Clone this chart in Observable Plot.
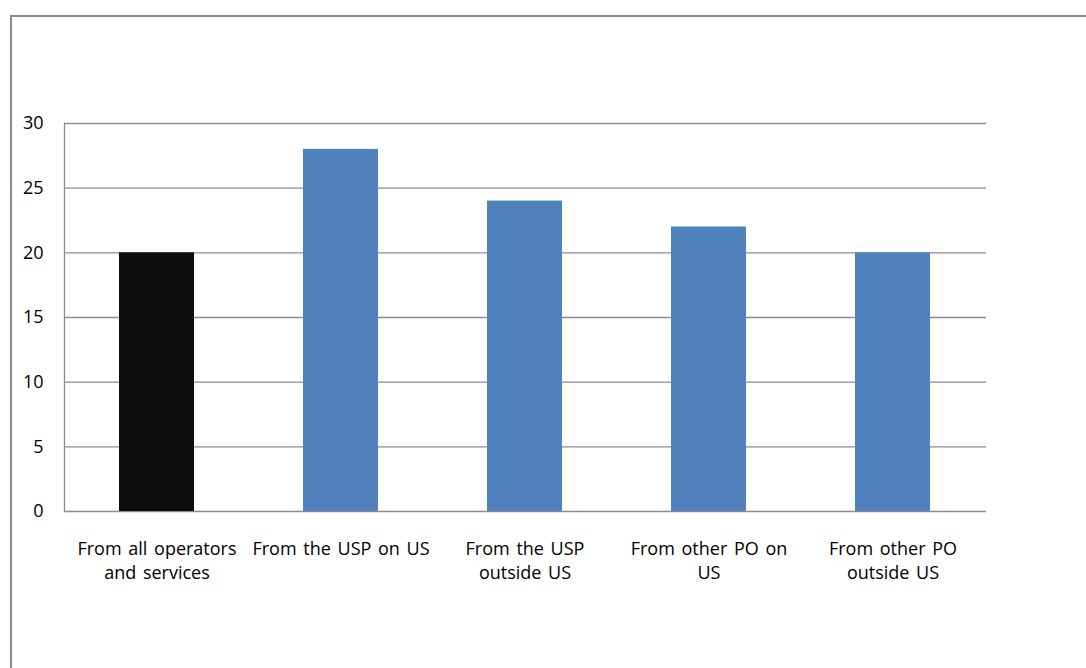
<!DOCTYPE html>
<html>
<head>
<meta charset="utf-8">
<script src="https://cdn.jsdelivr.net/npm/d3@7"></script>
<script src="https://cdn.jsdelivr.net/npm/@observablehq/plot@0.6"></script>
<style>
  html, body { margin: 0; padding: 0; background: #fff; overflow: hidden; }
  #wrap { position: relative; width: 1086px; height: 668px; }
  #border { position: absolute; left: 10px; top: 15px; width: 1200px; height: 800px;
            border-left: 2px solid #8c8c8c; border-top: 2px solid #8c8c8c; box-sizing: border-box; }
  #chart { position: absolute; left: 0; top: 0; }
  #chart svg text { word-spacing: 2px; }
</style>
</head>
<body>
<div id="wrap"><div id="border"></div><div id="chart"></div></div>
<script>
const categories = [
  "From all operators\nand services",
  "From the USP on US",
  "From the USP\noutside US",
  "From other PO on\nUS",
  "From other PO\noutside US"
];
const values = [20, 28, 24, 22, 20];
const seriesGroup = ["all", "split", "split", "split", "split"];
const yTicks = [0, 5, 10, 15, 20, 25, 30];

const data = categories.map((c, i) => ({category: c, value: values[i], group: seriesGroup[i]}));

const chart = Plot.plot({
  width: 1086,
  height: 668,
  marginLeft: 64,
  marginRight: 100,
  marginTop: 123,
  marginBottom: 157,
  style: {fontFamily: "'Open Sans', sans-serif", fontSize: "18px", color: "#000", background: "transparent"},
  x: {domain: categories, paddingInner: 0.59, paddingOuter: 0.295, label: null},
  y: {domain: [0, 30], label: null},
  color: {domain: ["all", "split"], range: ["#0d0d0d", "#4f81bd"]},
  marks: [
    Plot.ruleY(yTicks, {stroke: "#8c8c8c", strokeWidth: 1.3, strokeOpacity: 1}),
    Plot.barY(data, {x: "category", y: "value", fill: "group"}),
    Plot.frame({anchor: "left", stroke: "#8c8c8c", strokeWidth: 1.3, strokeOpacity: 1}),
    Plot.axisY({ticks: yTicks, tickSize: 0, tickPadding: 21, fontSize: 18, label: null}),
    Plot.axisX({tickSize: 0, tickPadding: 27, lineHeight: 1.3, fontSize: 18, label: null, textAnchor: "middle"})
  ]
});
document.getElementById("chart").appendChild(chart);
</script>
</body>
</html>
